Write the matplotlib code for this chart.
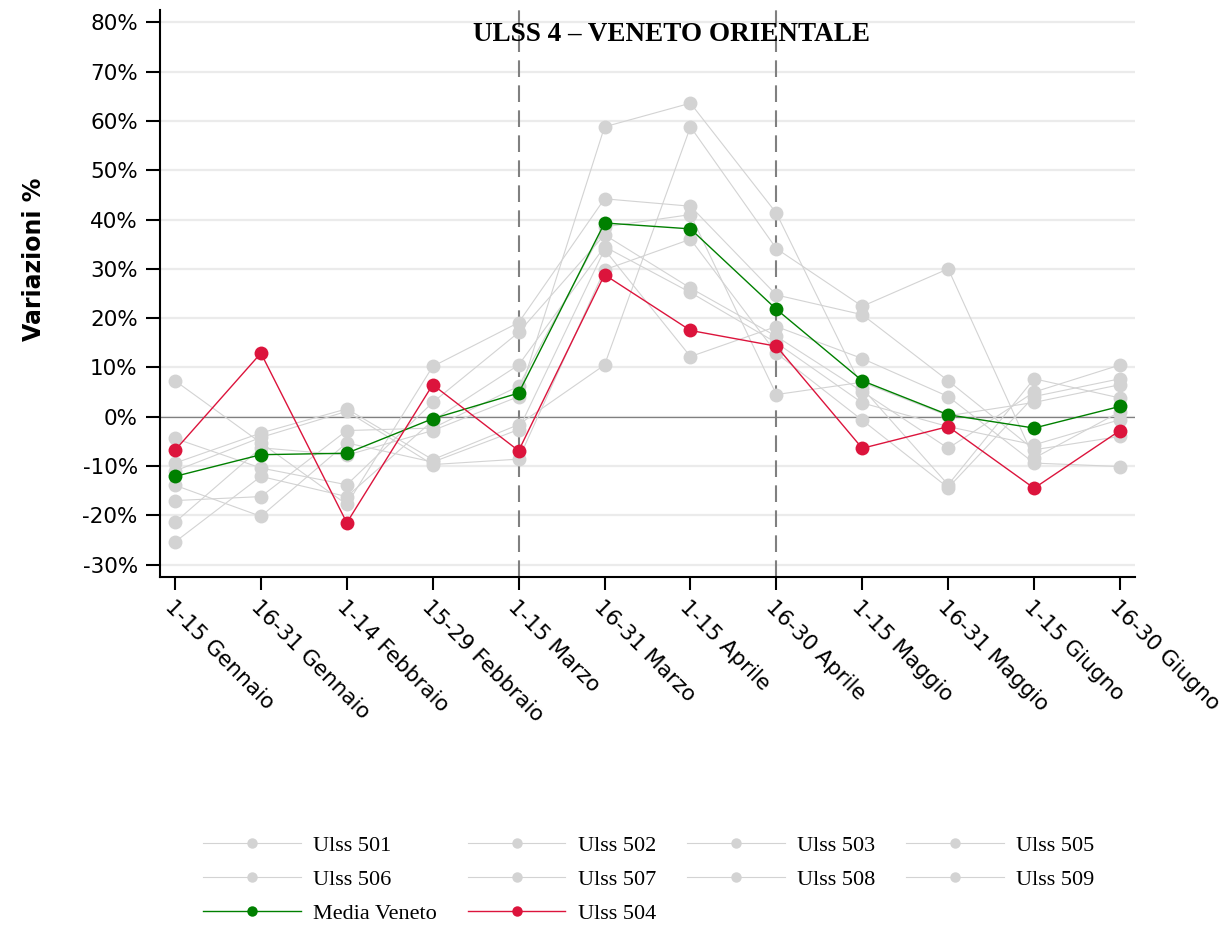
import matplotlib
matplotlib.use("Agg")
import matplotlib.pyplot as plt
from matplotlib.ticker import FuncFormatter

categories = ["1-15 Gennaio", "16-31 Gennaio", "1-14 Febbraio", "15-29 Febbraio",
              "1-15 Marzo", "16-31 Marzo", "1-15 Aprile", "16-30 Aprile",
              "1-15 Maggio", "16-31 Maggio", "1-15 Giugno", "16-30 Giugno"]

ulss501 = [7.3, -5.3, -17.8, 10.2, 19.1, 44.2, 42.7, 24.7, 20.7, 7.3, -6.7, -4.0]
ulss502 = [-4.4, -10.4, -13.8, 2.9, 17.1, 36.9, 26.1, 16.3, 5.1, -6.4, 5.0, 10.5]
ulss503 = [-9.4, -3.3, 1.6, -8.7, -1.6, 10.5, 58.8, 34.1, 22.4, 30.0, -8.4, 1.0]
ulss505 = [-11.0, -4.2, 1.1, -9.7, -8.6, 29.8, 36.0, 12.9, -0.7, -14.4, 4.1, 7.7]
ulss506 = [-13.9, -20.2, -5.3, -9.2, -2.6, 33.9, 12.2, 18.3, 11.8, 4.1, -9.4, -10.1]
ulss507 = [-17.0, -16.2, -2.8, -2.3, 6.2, 38.5, 41.0, 4.5, 7.0, 0.2, 2.9, 6.5]
ulss508 = [-21.4, -6.3, -7.8, -2.8, 4.1, 58.8, 63.6, 41.3, 5.8, -13.8, 7.7, 3.8]
ulss509 = [-25.4, -12.1, -16.2, -0.8, 10.5, 34.5, 25.2, 15.0, 2.8, -2.0, -5.7, -0.6]
media_veneto = [-12.1, -7.7, -7.4, -0.4, 4.8, 39.3, 38.1, 21.8, 7.3, 0.4, -2.3, 2.1]
ulss504 = [-6.8, 12.9, -21.5, 6.5, -6.9, 28.8, 17.5, 14.3, -6.4, -2.0, -14.5, -2.8]

grey_series = [("Ulss 501", ulss501), ("Ulss 502", ulss502), ("Ulss 503", ulss503),
               ("Ulss 505", ulss505), ("Ulss 506", ulss506), ("Ulss 507", ulss507),
               ("Ulss 508", ulss508), ("Ulss 509", ulss509)]

yticks = [-30, -20, -10, 0, 10, 20, 30, 40, 50, 60, 70, 80]
dashed_at = ["1-15 Marzo", "16-30 Aprile"]
title = "ULSS 4 \u2013 VENETO ORIENTALE"

fig = plt.figure(figsize=(12.24, 9.33), dpi=100)
ax = fig.add_axes([0.1307, 0.3816, 0.7966, 0.6077])

x = list(range(len(categories)))
for yv in yticks:
    ax.axhline(yv, color="#ebebeb", lw=1.6, zorder=0)
ax.axhline(0, color="#808080", lw=0.9, zorder=1)
for c in dashed_at:
    ax.axvline(categories.index(c), color="#808080", lw=1.5, ls=(0, (8, 4)), zorder=1)

handles = {}
for name, vals in grey_series:
    h, = ax.plot(x, vals, color="#d3d3d3", lw=0.8, marker="o", ms=10,
                 markeredgewidth=0, zorder=2, label=name)
    handles[name] = h
h, = ax.plot(x, media_veneto, color="#008000", lw=1.0, marker="o", ms=10,
             markeredgewidth=0, zorder=4, label="Media Veneto")
handles["Media Veneto"] = h
h, = ax.plot(x, ulss504, color="#dc143c", lw=1.0, marker="o", ms=10,
             markeredgewidth=0, zorder=5, label="Ulss 504")
handles["Ulss 504"] = h

ax.set_xlim(-0.175, len(categories) - 1 + 0.175)
ax.set_ylim(-32.5, 82.5)
ax.set_yticks(yticks)
ax.yaxis.set_major_formatter(FuncFormatter(lambda v, p: f"{int(v)}%"))
ax.set_xticks(x)
ax.set_xticklabels(categories, rotation=-45, ha="left", va="top",
                   rotation_mode="anchor", fontsize=15.5)
ax.tick_params(axis="y", labelsize=15.5, length=10, width=1.5, direction="out", pad=6)
ax.tick_params(axis="x", length=9, width=1.5, direction="out", pad=5)
for s in ["top", "right"]:
    ax.spines[s].set_visible(False)
for s in ["left", "bottom"]:
    ax.spines[s].set_linewidth(1.5)
    ax.spines[s].set_color("black")

ax.set_ylabel("Variazioni %", fontsize=17, fontweight="bold")
ax.yaxis.set_label_coords(-0.117, 0.56)
ax.text(0.525, 0.978, title, transform=ax.transAxes, ha="center", va="top",
        fontsize=19.5, fontweight="bold", family="Liberation Serif")

order = ["Ulss 501", "Ulss 506", "Media Veneto", "Ulss 502", "Ulss 507", "Ulss 504",
         "Ulss 503", "Ulss 508", "Ulss 505", "Ulss 509"]
leg = fig.legend([handles[n] for n in order], order, ncol=4, loc="center",
                 bbox_to_anchor=(0.530, 0.057), frameon=False,
                 prop={"family": "Liberation Serif", "size": 16},
                 handlelength=4.4, handletextpad=0.55, columnspacing=1.4,
                 labelspacing=0.6, markerscale=0.75)

fig.savefig("out.png", dpi=100)
